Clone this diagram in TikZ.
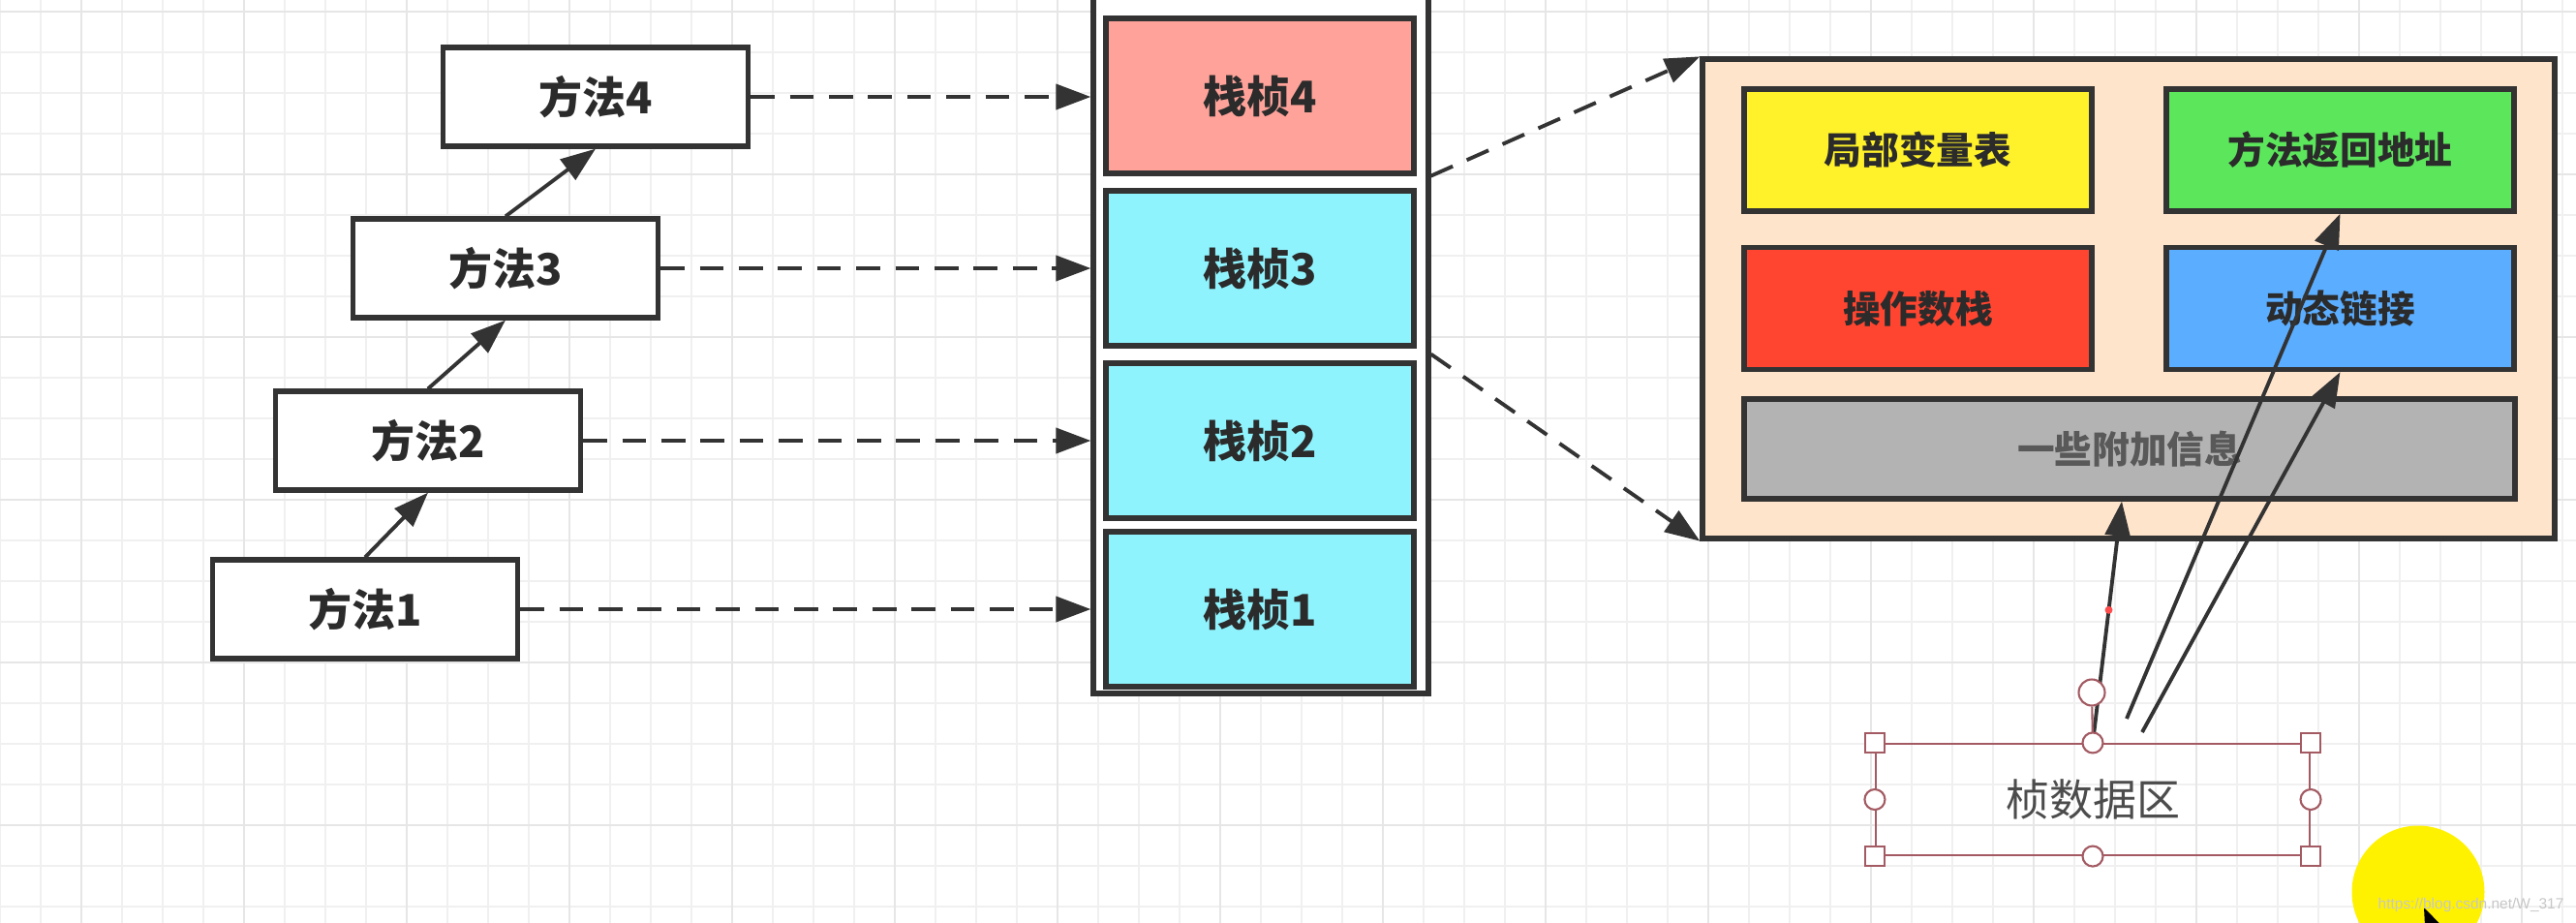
\documentclass[tikz,border=0pt]{standalone}
\usepackage{fontspec}
\newfontfamily\cjk{Noto Sans CJK SC}
\setsansfont{Liberation Sans}
\usetikzlibrary{arrows.meta, positioning, calc}
\usepackage{xcolor}
\definecolor{linegray}{HTML}{333333}
\definecolor{textgray}{HTML}{2B2B2B}
\definecolor{gridminor}{HTML}{F0F0F0}
\definecolor{gridmajor}{HTML}{E6E6E6}
\definecolor{framepink}{HTML}{FFA39A}
\definecolor{framecyan}{HTML}{8FF3FD}
\definecolor{peach}{HTML}{FFE4CC}
\definecolor{partyellow}{HTML}{FFF22A}
\definecolor{partgreen}{HTML}{5CE65C}
\definecolor{partred}{HTML}{FF4530}
\definecolor{partblue}{HTML}{5BADFF}
\definecolor{partgray}{HTML}{B3B3B3}
\definecolor{handlered}{HTML}{A35A62}
\definecolor{cursoryellow}{HTML}{FFF200}
\tikzset{
    method/.style = {rectangle, minimum width=3.15cm, minimum height=1.02cm, align=center, draw=linegray, line width=1.5pt, fill=white, text=textgray, font=\cjk\bfseries\fontsize{12.8}{15}\selectfont},
    frame/.style = {rectangle, minimum width=3.18cm, minimum height=1.6cm, align=center, draw=linegray, line width=1.5pt, fill=framecyan, text=textgray, font=\cjk\bfseries\fontsize{12.8}{15}\selectfont},
    part/.style = {rectangle, minimum width=3.59cm, minimum height=1.26cm, align=center, draw=linegray, line width=1.5pt, text=textgray, font=\cjk\bfseries\fontsize{11}{13}\selectfont},
    handlesq/.style = {rectangle, draw=handlered, fill=white, line width=0.6pt, minimum size=0.2cm, inner sep=0pt},
    handlecirc/.style = {circle, draw=handlered, fill=white, line width=0.6pt, minimum size=0.21cm, inner sep=0pt},
    arrow/.style = {line width=1.1pt, draw=linegray, -{Triangle[length=3.6mm, width=2.6mm]}},
    dasharrow/.style = {arrow, dash pattern=on 7pt off 4.5pt}
}

\begin{document}
\begin{tikzpicture}
\useasboundingbox (0,0) rectangle (26.6,-9.52);
\clip (0,0) rectangle (26.6,-9.52);
\fill [white] (0,0) rectangle (26.6,-9.52);
% grid paper
\begin{scope}[yshift=-0.12cm]
\draw [gridminor, line width=0.6pt, step=0.42] (-0.1,0.5) grid (26.7,-9.7);
\end{scope}
\begin{scope}[xshift=0.84cm, yshift=-0.12cm]
\draw [gridmajor, line width=0.8pt, step=1.68] (-1,0.5) grid (26,-9.7);
\end{scope}

% methods
\node (m1) [method] at (3.77,-6.29) {方法1};
\node (m2) [method] at (4.42,-4.55) {方法2};
\node (m3) [method] at (5.22,-2.77) {方法3};
\node (m4) [method] at (6.15,-1.00) {方法4};

% stack with frames
\node (stack) [rectangle, draw=linegray, line width=1.5pt, fill=white, minimum width=3.46cm, minimum height=7.46cm] at (13.02,-3.43) {};
\node (f1) [frame] at (13.01,-6.29) {栈桢1};
\node (f2) [frame] at (13.01,-4.55) {栈桢2};
\node (f3) [frame] at (13.01,-2.77) {栈桢3};
\node (f4) [frame, fill=framepink] at (13.01,-0.99) {栈桢4};

% frame contents
\node (detail) [rectangle, draw=linegray, line width=1.5pt, fill=peach, minimum width=8.8cm, minimum height=4.95cm] at (21.98,-3.085) {};
\node (lv) [part, fill=partyellow] at (19.805,-1.55) {局部变量表};
\node (ret) [part, fill=partgreen] at (24.165,-1.55) {方法返回地址};
\node (ops) [part, fill=partred] at (19.805,-3.185) {操作数栈};
\node (dyn) [part, fill=partblue] at (24.165,-3.185) {动态链接};
\node (info) [part, fill=partgray, minimum width=7.96cm, minimum height=1.03cm, text=black!65] at (21.99,-4.635) {一些附加信息};

% frame data (selected)
\node (fd) [rectangle, draw=handlered, line width=0.6pt, minimum width=4.48cm, minimum height=1.15cm, text=black!70, font=\cjk\fontsize{12.8}{15}\selectfont] at (21.61,-8.255) {桢数据区};
\coordinate (s2) at (21.96,-7.42);
\coordinate (s3) at (22.12,-7.56);

\draw [dasharrow] (m1.east) -- (m1.east -| stack.west);
\draw [dasharrow] (m2.east) -- (m2.east -| stack.west);
\draw [dasharrow] (m3.east) -- (m3.east -| stack.west);
\draw [dasharrow] (m4.east) -- (m4.east -| stack.west);
\draw [arrow] (m1.north) -- (m2.south);
\draw [arrow] (m2.north) -- (m3.south);
\draw [arrow] (m3.north) -- (m4.south);
\draw [dasharrow] (stack.east |- f4.south) -- (detail.north west);
\draw [dasharrow] ($(stack.east |- f3.south)+(0,-0.06)$) -- (detail.south west);

\draw [arrow] (fd.north) -- node (dot) [pos=0.55, circle, fill=red!70, inner sep=0pt, minimum size=0.08cm] {} ($(info.south west)!0.49!(info.south east)$);
\draw [arrow] (s2) -- (ret.south);
\draw [arrow] (s3) -- (dyn.south);

% handles
\node (rot) [handlecirc, minimum size=0.27cm] at (21.60,-7.15) {};
\draw [handlered, line width=0.6pt] (rot) -- (fd.north);
\node (h1) [handlesq] at (fd.north west) {};
\node (h2) [handlesq] at (fd.north east) {};
\node (h3) [handlesq] at (fd.south west) {};
\node (h4) [handlesq] at (fd.south east) {};
\node (h5) [handlecirc] at (fd.north) {};
\node (h6) [handlecirc] at (fd.south) {};
\node (h7) [handlecirc] at (fd.west) {};
\node (h8) [handlecirc] at (fd.east) {};

% cursor
\node (spot) [circle, fill=cursoryellow, minimum size=1.37cm, inner sep=0pt] at (24.97,-9.21) {};
\fill [black] (25.03,-9.37) -- (25.40,-9.75) -- (25.05,-9.75) -- cycle;
\node (mark) [anchor=base west, inner sep=0pt, text=black!22, font=\sffamily\fontsize{4.4}{5}\selectfont] at (24.55,-9.38) {https://blog.csdn.net/W\_317};
\end{tikzpicture}
\end{document}
